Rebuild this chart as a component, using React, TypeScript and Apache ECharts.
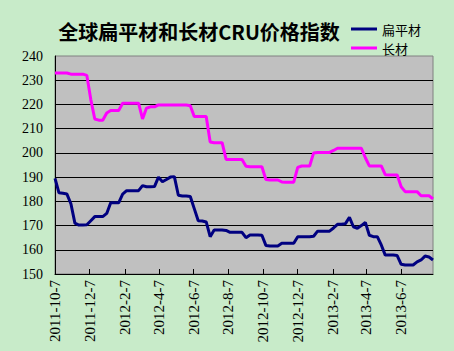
import React, { useEffect, useRef } from "react";
import * as echarts from "echarts";

const titleText = "全球扁平材和长材CRU价格指数";
const seriesNames = ["扁平材", "长材"];
const startYear = 2011;
const startMonth = 10;
const startDay = 7;
const tickLabels = [
  "2011-10-7", "2011-12-7", "2012-2-7", "2012-4-7", "2012-6-7", "2012-8-7",
  "2012-10-7", "2012-12-7", "2013-2-7", "2013-4-7", "2013-6-7",
];
const yTicks = [150, 160, 170, 180, 190, 200, 210, 220, 230, 240];

// weekly values
const flatValues = [
  189.5, 183.5, 183.3, 183, 179, 171, 170.2, 170.2, 170.3, 172,
  173.7, 173.7, 173.7, 175, 179.4, 179.4, 179.4, 183, 184.4, 184.4,
  184.4, 184.4, 186.5, 186, 186, 186.1, 190, 188.1, 189, 190,
  190.2, 182.5, 182.2, 182.2, 182, 177, 172, 171.9, 171.5, 165.4,
  168.2, 168.2, 168.2, 168, 167.2, 167.2, 167.2, 167.2, 165, 166.1,
  166.1, 166.1, 166, 161.8, 161.6, 161.6, 161.6, 162.7, 162.7, 162.7,
  162.7, 165.4, 165.4, 165.4, 165.4, 165.6, 167.7, 167.7, 167.7, 167.7,
  169, 170.5, 170.5, 170.8, 173.4, 169.5, 168.9, 170, 171.3, 166,
  165.4, 165.4, 162, 157.8, 157.8, 157.8, 157.6, 154, 153.7, 153.7,
  153.7, 155, 155.8, 157.4, 157, 155.8,
];
const longValues = [
  233, 233, 233, 233, 232.5, 232.5, 232.5, 232.5, 232, 222,
  214, 213.5, 213.5, 216.5, 217.5, 217.5, 217.5, 220.5, 220.5, 220.5,
  220.5, 220.5, 214, 218.5, 219, 219, 219.8, 219.8, 219.8, 219.8,
  219.8, 219.8, 219.8, 219.8, 219.5, 215, 215, 215, 215, 204.5,
  204.2, 204.2, 204.2, 197.3, 197.3, 197.3, 197.3, 197.3, 194.5, 194.3,
  194.3, 194.3, 194.3, 189, 188.8, 188.8, 188.8, 188, 187.9, 187.9,
  187.9, 194, 194.6, 194.6, 194.6, 200, 200.2, 200.2, 200.2, 200.2,
  201, 201.9, 201.9, 201.9, 201.9, 201.9, 201.9, 201.9, 198, 194.6,
  194.6, 194.6, 194.6, 191, 190.9, 190.9, 190.9, 186, 184, 184,
  184, 184, 182.3, 182.3, 182.3, 181,
];

const DAY = 86400000;
const startUTC = Date.UTC(startYear, startMonth - 1, startDay);
// x values are days since the start date
const weekDay = (w: number) => 7 * w;
const labelDay = (s: string) => {
  const [y, m, d] = s.split("-").map(Number);
  return Math.round((Date.UTC(y, m - 1, d) - startUTC) / DAY);
};
const fmt = (v: number) => {
  const d = new Date(startUTC + Math.round(v) * DAY);
  return `${d.getUTCFullYear()}-${d.getUTCMonth() + 1}-${d.getUTCDate()}`;
};

const serif = "'Liberation Serif', 'Times New Roman', 'DejaVu Serif', serif";

export default function App() {
  const ref = useRef<HTMLDivElement>(null);
  useEffect(() => {
    if (!ref.current) return;
    const chart = echarts.init(ref.current, undefined, { renderer: "svg" });
    const tickValues = tickLabels.map(labelDay);
    chart.setOption({
      animation: false,
      backgroundColor: "#C8EBC9",
      title: {
        text: titleText,
        left: 199,
        top: 19,
        padding: 0,
        textAlign: "center",
        textStyle: {
          fontFamily: "'Noto Sans CJK SC'",
          fontWeight: "bold",
          fontSize: 20,
          lineHeight: 24,
          color: "#000",
        },
      },
      legend: {
        orient: "vertical",
        left: 351,
        top: 22,
        padding: 0,
        itemGap: 5,
        itemWidth: 26,
        itemHeight: 3,
        textStyle: {
          fontFamily: "'Noto Sans CJK SC'",
          fontSize: 13,
          lineHeight: 14,
          color: "#000",
        },
        data: seriesNames.map((n) => ({ name: n, icon: "rect" })),
      },
      grid: {
        left: 55,
        right: 21,
        top: 56,
        bottom: 77,
        show: true,
        backgroundColor: "#C0C0C0",
        borderColor: "#808080",
        borderWidth: 1,
      },
      xAxis: {
        type: "value",
        min: 0,
        max: weekDay(flatValues.length - 1),
        axisLine: { show: true, onZero: false, lineStyle: { color: "#000", width: 1 } },
        axisTick: {
          show: true,
          inside: true,
          length: 5,
          lineStyle: { color: "#000" },
          customValues: tickValues,
        },
        axisLabel: {
          customValues: tickValues,
          rotate: 90,
          margin: 6,
          fontFamily: serif,
          fontSize: 15,
          color: "#000",
          formatter: (v: number) => fmt(v),
          hideOverlap: false,
        },
        splitLine: { show: false },
      },
      yAxis: {
        type: "value",
        min: yTicks[0],
        max: yTicks[yTicks.length - 1],
        interval: 10,
        axisLine: { show: true, lineStyle: { color: "#000", width: 1 } },
        axisTick: { show: false },
        axisLabel: {
          margin: 12,
          fontFamily: serif,
          fontSize: 14,
          color: "#000",
        },
        splitLine: {
          show: true,
          showMaxLine: false,
          lineStyle: { color: "#000", width: 1 },
        },
      },
      series: [
        {
          name: seriesNames[0],
          type: "line",
          symbol: "none",
          lineStyle: { color: "#000080", width: 3 },
          itemStyle: { color: "#000080" },
          data: flatValues.map((v, i) => [weekDay(i), v]),
        },
        {
          name: seriesNames[1],
          type: "line",
          symbol: "none",
          lineStyle: { color: "#FF00FF", width: 3 },
          itemStyle: { color: "#FF00FF" },
          data: longValues.map((v, i) => [weekDay(i), v]),
        },
      ],
    });
    return () => chart.dispose();
  }, []);
  return (
    <div
      ref={ref}
      style={{ position: "absolute", left: 0, top: 0, width: 454, height: 351 }}
    />
  );
}
